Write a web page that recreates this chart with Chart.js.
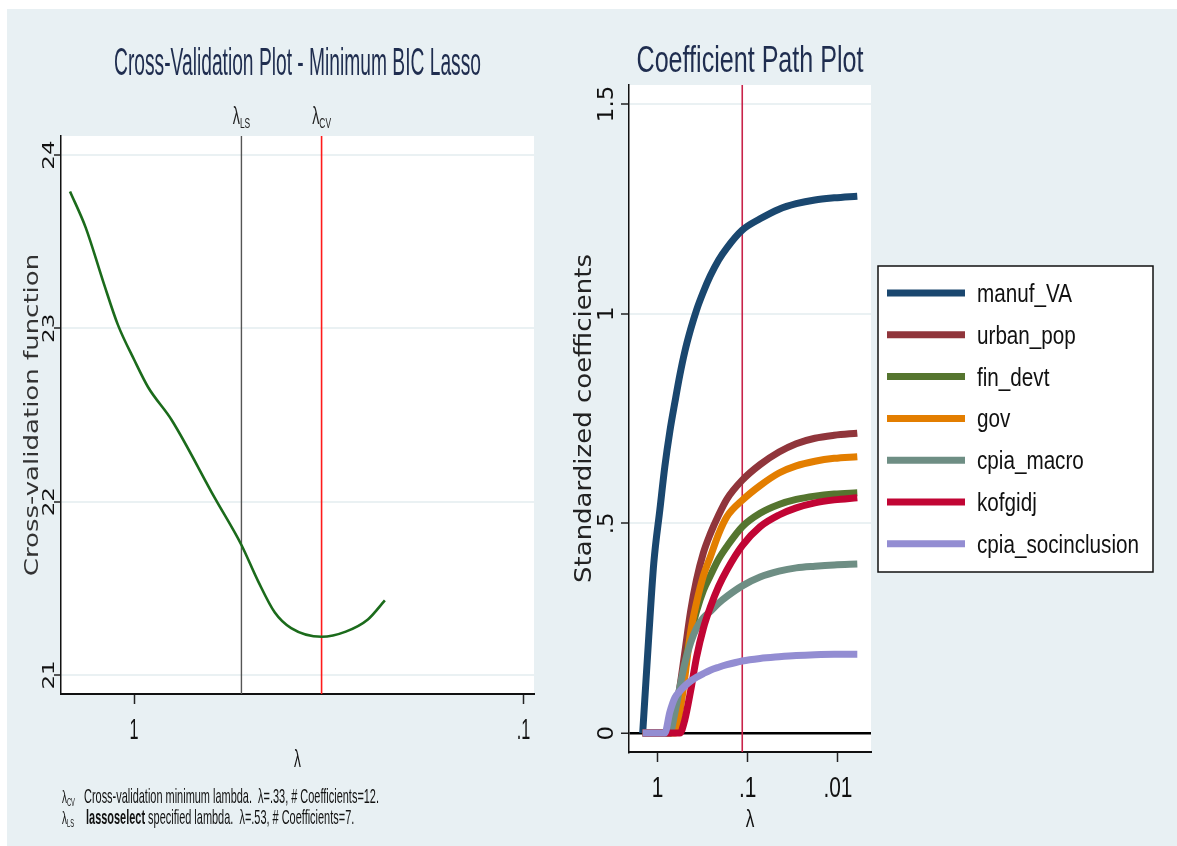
<!DOCTYPE html>
<html lang="en">
<head>
    <meta charset="UTF-8">
    <title>Lasso cross-validation and coefficient paths</title>
    <script src="https://cdn.jsdelivr.net/npm/chart.js"></script>
    <style>
        html, body { margin: 0; padding: 0; background: #ffffff; }
        body { width: 1177px; height: 846px; position: relative; overflow: hidden; }
        #panel { position: absolute; left: 7px; top: 9px; right: 0; bottom: 0; background: #e8f0f3; }
        canvas { position: absolute; }
        #cvChart { left: 7px; top: 9px; }
        #pathChart { left: 560px; top: 9px; }
    </style>
</head>
<body>
    <div id="panel"></div>
    <canvas id="cvChart" width="553" height="837"></canvas>
    <canvas id="pathChart" width="617" height="837"></canvas>

    <script>
        // ---- left panel: cross-validation function ----
        var cvTitle = 'Cross-Validation Plot - Minimum BIC Lasso';
        var cvLambda = [1.46, 1.33, 1.20, 1.10, 1.00, 0.92, 0.80, 0.62, 0.53, 0.48, 0.435, 0.395, 0.33, 0.286, 0.251, 0.227];
        var cvValue  = [23.79, 23.58, 23.27, 23.02, 22.82, 22.66, 22.47, 22.02, 21.75, 21.54, 21.36, 21.27, 21.22, 21.25, 21.32, 21.43];
        var cvXTicks = [1, 0.1];
        var cvXTickLabels = ['1', '.1'];
        var cvYTicks = [21, 22, 23, 24];
        var cvXRange = [0.094, 1.54];
        var cvYRange = [20.89, 24.11];
        var lambdaCV = 0.33;
        var lambdaLS = 0.53;
        var coefCV = 12;
        var coefLS = 7;

        // ---- right panel: coefficient paths ----
        var pathTitle = 'Coefficient Path Plot';
        var pathLambda = [1.46, 1.25, 1.10, 0.94, 0.83, 0.73, 0.64, 0.565, 0.50, 0.43, 0.37, 0.31, 0.26, 0.21, 0.17, 0.115, 0.073, 0.045, 0.029, 0.018, 0.011, 0.0061];
        var manufVA   = [0, 0.23, 0.405, 0.534, 0.635, 0.719, 0.790, 0.854, 0.908, 0.962, 1.008, 1.052, 1.090, 1.128, 1.157, 1.199, 1.226, 1.249, 1.262, 1.271, 1.276, 1.280];
        var urbanPop  = [0, 0, 0, 0, 0, 0, 0.04, 0.11, 0.19, 0.29, 0.365, 0.43, 0.475, 0.52, 0.558, 0.603, 0.64, 0.67, 0.69, 0.703, 0.71, 0.715];
        var finDevt   = [0, 0, 0, 0, 0, 0, 0.04, 0.10, 0.16, 0.235, 0.29, 0.34, 0.375, 0.415, 0.445, 0.492, 0.524, 0.545, 0.557, 0.565, 0.570, 0.573];
        var gov       = [0, 0, 0, 0, 0, 0, 0, 0.05, 0.13, 0.24, 0.31, 0.375, 0.42, 0.475, 0.516, 0.555, 0.59, 0.62, 0.637, 0.648, 0.655, 0.659];
        var cpiaMacro = [0, 0, 0, 0, 0, 0, 0.05, 0.11, 0.165, 0.215, 0.25, 0.275, 0.29, 0.31, 0.326, 0.351, 0.372, 0.386, 0.394, 0.398, 0.401, 0.403];
        var kofgidj   = [0, 0, 0, 0, 0, 0, 0, 0, 0.03, 0.10, 0.18, 0.25, 0.30, 0.35, 0.389, 0.447, 0.492, 0.52, 0.537, 0.549, 0.556, 0.561];
        var cpiaSoc   = [0, 0, 0, 0, 0, 0.05, 0.085, 0.10, 0.112, 0.124, 0.133, 0.142, 0.150, 0.157, 0.163, 0.172, 0.178, 0.182, 0.185, 0.187, 0.188, 0.188];
        var pathLabels = ['manuf_VA', 'urban_pop', 'fin_devt', 'gov', 'cpia_macro', 'kofgidj', 'cpia_socinclusion'];
        var pathSeries = [manufVA, urbanPop, finDevt, gov, cpiaMacro, kofgidj, cpiaSoc];
        var pathColors = ['#1a476f', '#90353b', '#55752f', '#e37e00', '#6e8e84', '#c10534', '#938dd2'];
        var pathXTicks = [1, 0.1, 0.01];
        var pathXTickLabels = ['1', '.1', '.01'];
        var pathYTicks = [0, 0.5, 1, 1.5];
        var pathYTickLabels = ['0', '.5', '1', '1.5'];
        var pathXRange = [0.0043, 2.07];
        var pathYRange = [-0.045, 1.545];
        var lambdaSelected = 0.115;

        var SANS = '"Liberation Sans", Arial, sans-serif';
        var WIDE = '"DejaVu Sans", Verdana, sans-serif';
        var GRID = '#eaf1f3';

        // horizontal text, squeezed sideways by sx
        function flatText(ctx, str, x, y, size, sx, align, color, weight) {
            ctx.save();
            ctx.font = (weight || 'normal') + ' ' + size + 'px ' + SANS;
            ctx.fillStyle = color || '#111';
            ctx.textAlign = 'left';
            ctx.textBaseline = 'alphabetic';
            var w = ctx.measureText(str).width * sx;
            var left = align === 'center' ? x - w / 2 : (align === 'right' ? x - w : x);
            ctx.translate(left, y);
            ctx.scale(sx, 1);
            ctx.fillText(str, 0, 0);
            ctx.restore();
            return w;
        }

        function fitScale(ctx, str, size, width, weight) {
            ctx.save();
            ctx.font = (weight || 'normal') + ' ' + size + 'px ' + SANS;
            var m = ctx.measureText(str).width;
            ctx.restore();
            return width / m;
        }

        // vertical text reading bottom to top; x is the baseline
        function upText(ctx, str, x, y, size, squash, color) {
            ctx.save();
            ctx.font = size + 'px ' + WIDE;
            ctx.fillStyle = color || '#111';
            ctx.textAlign = 'center';
            ctx.textBaseline = 'alphabetic';
            ctx.translate(x, y);
            ctx.scale(squash, 1);
            ctx.rotate(-Math.PI / 2);
            ctx.fillText(str, 0, 0);
            ctx.restore();
        }

        // lambda with a subscript, starting at x
        function lambdaSub(ctx, sub, x, y, size, subSize, sx, color) {
            var w = flatText(ctx, 'λ', x, y, size, sx, 'left', color);
            var w2 = flatText(ctx, sub, x + w, y + size * 0.18, subSize, sx, 'left', color);
            return w + w2;
        }

        function lambdaSubWidth(ctx, sub, size, subSize, sx) {
            ctx.save();
            ctx.font = size + 'px ' + SANS;
            var w = ctx.measureText('λ').width;
            ctx.font = subSize + 'px ' + SANS;
            w += ctx.measureText(sub).width;
            ctx.restore();
            return w * sx;
        }

        function fmt(v) {
            return String(v).replace(/^0\./, '.');
        }

        function pairs(xs, ys) {
            return xs.map(function (x, i) { return { x: x, y: ys[i] }; });
        }

        var plotBackground = {
            id: 'plotBackground',
            beforeDraw: function (chart) {
                var a = chart.chartArea, ctx = chart.ctx;
                ctx.save();
                ctx.fillStyle = '#ffffff';
                ctx.fillRect(a.left, a.top, a.right - a.left, a.bottom - a.top);
                ctx.restore();
            }
        };

        function fixedTicks(values) {
            return function (scale) {
                scale.ticks = values.map(function (v) { return { value: v }; });
            };
        }

        // ---- left chart ----
        var cvDecor = {
            id: 'cvDecor',
            afterDraw: function (chart) {
                var ctx = chart.ctx, a = chart.chartArea;
                var xs = chart.scales.x, ys = chart.scales.y;
                var midX = (a.left + a.right) / 2;

                var ts = fitScale(ctx, cvTitle, 38, 367);
                flatText(ctx, cvTitle, midX, 66, 38, ts, 'center', '#1f2d4f');

                [['LS', lambdaLS], ['CV', lambdaCV]].forEach(function (m) {
                    var px = xs.getPixelForValue(m[1]);
                    var w = lambdaSubWidth(ctx, m[0], 24, 14, 0.6);
                    lambdaSub(ctx, m[0], px - w / 2, 115, 24, 14, 0.6, '#222');
                });

                cvYTicks.forEach(function (v) {
                    upText(ctx, String(v), 47, ys.getPixelForValue(v), 23, 0.72, '#111');
                });
                upText(ctx, 'Cross-validation function', 31, (a.top + a.bottom) / 2, 26, 0.75, '#333');

                cvXTicks.forEach(function (v, i) {
                    flatText(ctx, cvXTickLabels[i], xs.getPixelForValue(v), 730, 29, 0.56, 'center', '#111');
                });
                flatText(ctx, 'λ', midX, 758, 23, 0.6, 'center', '#111');

                var note1 = 'Cross-validation minimum lambda.  λ=' + fmt(lambdaCV) + ', # Coefficients=' + coefCV + '.';
                var ns = fitScale(ctx, note1, 21, 295);
                lambdaSub(ctx, 'CV', 55, 794, 19, 11, ns, '#111');
                flatText(ctx, note1, 77, 794, 21, ns, 'left', '#111');
                lambdaSub(ctx, 'LS', 55, 815, 19, 11, ns, '#111');
                var bw = flatText(ctx, 'lassoselect', 79, 815, 21, ns, 'left', '#111', 'bold');
                flatText(ctx, ' specified lambda.  λ=' + fmt(lambdaLS) + ', # Coefficients=' + coefLS + '.', 79 + bw, 815, 21, ns, 'left', '#111');
            }
        };

        new Chart(document.getElementById('cvChart').getContext('2d'), {
            type: 'line',
            data: {
                datasets: [
                    {
                        label: 'cv',
                        data: pairs(cvLambda, cvValue),
                        borderColor: '#1b6b1b',
                        borderWidth: 2.6,
                        pointRadius: 0,
                        fill: false,
                        cubicInterpolationMode: 'monotone',
                        order: 0
                    },
                    {
                        label: 'ls',
                        data: pairs([lambdaLS, lambdaLS], cvYRange),
                        borderColor: '#555555',
                        borderWidth: 1.4,
                        pointRadius: 0,
                        fill: false,
                        order: 2
                    },
                    {
                        label: 'cvmin',
                        data: pairs([lambdaCV, lambdaCV], cvYRange),
                        borderColor: '#ff1a1a',
                        borderWidth: 1.6,
                        pointRadius: 0,
                        fill: false,
                        order: 1
                    }
                ]
            },
            options: {
                responsive: false,
                animation: false,
                layout: { padding: { left: 47, right: 26, top: 127, bottom: 142 } },
                plugins: { legend: { display: false }, tooltip: { enabled: false } },
                scales: {
                    x: {
                        type: 'logarithmic',
                        reverse: true,
                        min: cvXRange[0],
                        max: cvXRange[1],
                        afterBuildTicks: fixedTicks(cvXTicks),
                        afterFit: function (s) { s.height = 10; },
                        ticks: { display: false },
                        grid: { drawOnChartArea: false, drawTicks: true, tickLength: 10, tickColor: '#222', tickWidth: 1.5 },
                        border: { color: '#111', width: 2 }
                    },
                    y: {
                        min: cvYRange[0],
                        max: cvYRange[1],
                        afterBuildTicks: fixedTicks(cvYTicks),
                        afterFit: function (s) { s.width = 7; },
                        ticks: { display: false },
                        grid: { color: GRID, lineWidth: 2, drawTicks: true, tickLength: 7, tickColor: '#222', tickWidth: 1.5 },
                        border: { color: '#111', width: 1.5 }
                    }
                }
            },
            plugins: [plotBackground, cvDecor]
        });

        // ---- right chart ----
        var pathDecor = {
            id: 'pathDecor',
            afterDraw: function (chart) {
                var ctx = chart.ctx, a = chart.chartArea;
                var xs = chart.scales.x, ys = chart.scales.y;
                var midX = (a.left + a.right) / 2;

                var ts = fitScale(ctx, pathTitle, 37, 227);
                flatText(ctx, pathTitle, midX, 63, 37, ts, 'center', '#1f2d4f');

                pathYTicks.forEach(function (v, i) {
                    upText(ctx, pathYTickLabels[i], 53, ys.getPixelForValue(v), 23, 0.9, '#111');
                });
                upText(ctx, 'Standardized coefficients', 31, (a.top + a.bottom) / 2, 26, 0.9, '#222');

                pathXTicks.forEach(function (v, i) {
                    flatText(ctx, pathXTickLabels[i], xs.getPixelForValue(v), 788, 29, 0.72, 'center', '#111');
                });
                flatText(ctx, 'λ', midX, 818, 24, 0.72, 'center', '#111');

                // legend box
                var bx = 318, by = 257, bw = 275, bh = 306;
                ctx.save();
                ctx.fillStyle = '#ffffff';
                ctx.fillRect(bx, by, bw, bh);
                ctx.strokeStyle = '#111';
                ctx.lineWidth = 1.5;
                ctx.strokeRect(bx, by, bw, bh);
                ctx.restore();
                var ls = fitScale(ctx, pathLabels[6], 25, 162);
                pathLabels.forEach(function (lab, i) {
                    var cy = 284 + i * 41.8;
                    ctx.save();
                    ctx.strokeStyle = pathColors[i];
                    ctx.lineWidth = 7;
                    ctx.beginPath();
                    ctx.moveTo(327, cy);
                    ctx.lineTo(405, cy);
                    ctx.stroke();
                    ctx.restore();
                    flatText(ctx, lab, 417, cy + 9, 25, ls, 'left', '#111');
                });
            }
        };

        var pathDatasets = pathSeries.map(function (vals, i) {
            return {
                label: pathLabels[i],
                data: pairs(pathLambda, vals),
                borderColor: pathColors[i],
                borderWidth: 7,
                pointRadius: 0,
                fill: false,
                cubicInterpolationMode: 'monotone',
                order: pathSeries.length - i
            };
        });
        pathDatasets.push({
            label: 'selected',
            data: pairs([lambdaSelected, lambdaSelected], pathYRange),
            borderColor: '#c8234a',
            borderWidth: 1.6,
            pointRadius: 0,
            fill: false,
            order: 20
        });

        new Chart(document.getElementById('pathChart').getContext('2d'), {
            type: 'line',
            data: { datasets: pathDatasets },
            options: {
                responsive: false,
                animation: false,
                layout: { padding: { left: 61, right: 306, top: 76, bottom: 84 } },
                plugins: { legend: { display: false }, tooltip: { enabled: false } },
                scales: {
                    x: {
                        type: 'logarithmic',
                        reverse: true,
                        min: pathXRange[0],
                        max: pathXRange[1],
                        afterBuildTicks: fixedTicks(pathXTicks),
                        afterFit: function (s) { s.height = 10; },
                        ticks: { display: false },
                        grid: { drawOnChartArea: false, drawTicks: true, tickLength: 10, tickColor: '#222', tickWidth: 1.5 },
                        border: { color: '#111', width: 2 }
                    },
                    y: {
                        min: pathYRange[0],
                        max: pathYRange[1],
                        afterBuildTicks: fixedTicks(pathYTicks),
                        afterFit: function (s) { s.width = 8; },
                        ticks: { display: false },
                        grid: {
                            color: function (c) { return c.tick && c.tick.value === 0 ? '#000000' : GRID; },
                            lineWidth: function (c) { return c.tick && c.tick.value === 0 ? 2.5 : 2; },
                            drawTicks: true,
                            tickLength: 8,
                            tickColor: '#222',
                            tickWidth: 1.5
                        },
                        border: { color: '#111', width: 1.5 }
                    }
                }
            },
            plugins: [plotBackground, pathDecor]
        });
    </script>
</body>
</html>
